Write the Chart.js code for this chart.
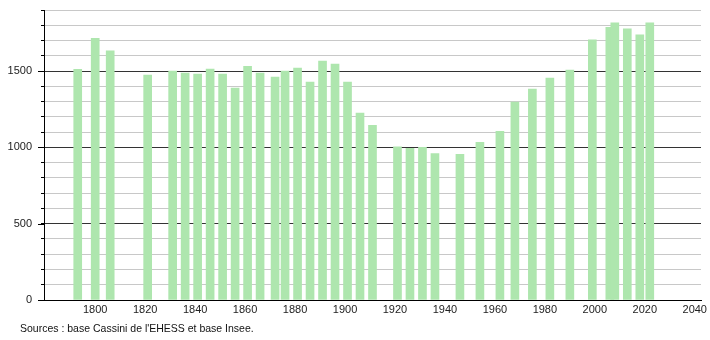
<!DOCTYPE html>
<html>
<head>
<meta charset="utf-8">
<script src="https://cdn.jsdelivr.net/npm/chart.js@4/dist/chart.umd.min.js"></script>
<style>
  body { margin: 0; background: #fff; }
  #wrap { position: relative; width: 710px; height: 340px; }
  #sources {
    position: absolute; left: 20px; top: 322px;
    font-family: "Liberation Sans", Arial, sans-serif; font-size: 10.5px; color: #111;
  }
</style>
</head>
<body>
<div id="wrap">
  <canvas id="popChart" width="710" height="340"></canvas>
  <div id="sources">Sources : base Cassini de l'EHESS et base Insee.</div>
</div>
<script>
const years = [1793, 1800, 1806, 1821, 1831, 1836, 1841, 1846, 1851, 1856,
  1861, 1866, 1872, 1876, 1881, 1886, 1891, 1896, 1901, 1906,
  1911, 1921, 1926, 1931, 1936, 1946, 1954, 1962, 1968, 1975,
  1982, 1990, 1999, 2006, 2008, 2013, 2018, 2022];
const population = [1512, 1715, 1632, 1474, 1500, 1487, 1480, 1513, 1480, 1388,
  1531, 1487, 1461, 1500, 1520, 1428, 1566, 1546, 1428, 1224,
  1145, 1003, 993, 1000, 960, 954, 1033, 1105, 1296, 1382,
  1454, 1507, 1704, 1787, 1816, 1776, 1737, 1816];
const xTickYears = [1800, 1820, 1840, 1860, 1880, 1900, 1920, 1940, 1960, 1980, 2000, 2020, 2040];
const yMajorTicks = [0, 500, 1000, 1500];

const barColor = 'rgb(174, 230, 174)';
const font = { family: '"Liberation Sans", Arial, sans-serif', size: 11 };

// longer tick marks for the labelled values
const majorTickMarks = {
  id: 'majorTickMarks',
  afterDraw(chart) {
    const y = chart.scales.y;
    const c = chart.ctx;
    c.save();
    c.strokeStyle = '#000';
    c.lineWidth = 1;
    yMajorTicks.forEach(v => {
      const py = Math.round(y.getPixelForValue(v)) + 0.5;
      c.beginPath();
      c.moveTo(y.right - 6, py);
      c.lineTo(y.right, py);
      c.stroke();
    });
    c.restore();
  }
};

const ctx = document.getElementById('popChart').getContext('2d');
new Chart(ctx, {
  type: 'bar',
  data: {
    datasets: [{
      data: years.map((yr, i) => ({ x: yr, y: population[i] })),
      backgroundColor: barColor,
      borderWidth: 0,
      barThickness: 8
    }]
  },
  options: {
    responsive: false,
    animation: false,
    layout: { padding: { top: 10, right: 9, left: 0, bottom: 0 } },
    plugins: { legend: { display: false }, tooltip: { enabled: false } },
    scales: {
      x: {
        type: 'linear',
        offset: false,
        min: 1779.5,
        max: 2042.5,
        grid: { display: false, drawTicks: false, offset: false },
        border: { color: '#000', width: 1 },
        afterBuildTicks: s => { s.ticks = xTickYears.map(v => ({ value: v })); },
        afterFit: s => { s.height = 40; s.paddingLeft = 0; s.paddingRight = 0; },
        ticks: { padding: 3, color: '#222', font, maxRotation: 0, autoSkip: false, callback: v => String(v) }
      },
      y: {
        min: 0,
        max: 1900,
        afterFit: s => { s.width = 44; s.paddingTop = 0; s.paddingBottom = 0; },
        ticks: {
          stepSize: 100, padding: 9, color: '#222', font, autoSkip: false,
          callback: v => (yMajorTicks.includes(v) ? String(v) : '')
        },
        grid: {
          color: c => (c.tick && c.tick.value % 500 === 0 ? '#333' : '#c8c8c8'),
          tickColor: '#000',
          tickLength: 3
        },
        border: { color: '#000', width: 1 }
      }
    }
  },
  plugins: [majorTickMarks]
});
</script>
</body>
</html>
